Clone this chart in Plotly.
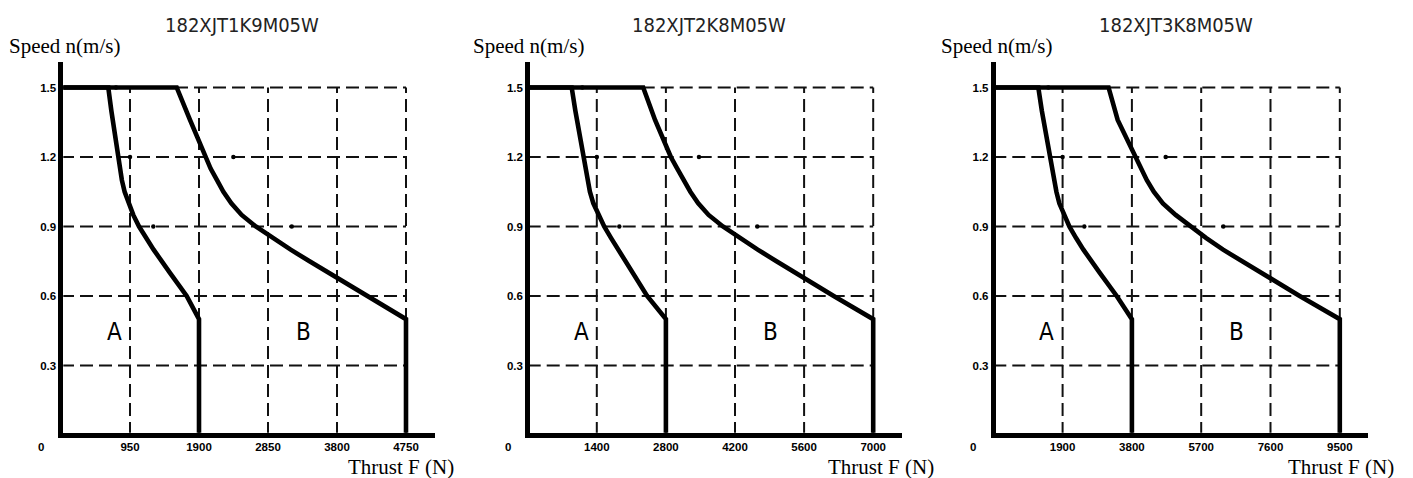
import plotly.graph_objects as go

# The page body has an 8px margin, so the figure is sized to sit inside it.
PAGE_OFF = 8
W, H = 1405, 470

# ---------------- data ----------------
titles = ["182XJT1K9M05W", "182XJT2K8M05W", "182XJT3K8M05W"]

x_ticks_1 = [950, 1900, 2850, 3800, 4750]
x_ticks_2 = [1400, 2800, 4200, 5600, 7000]
x_ticks_3 = [1900, 3800, 5700, 7600, 9500]
y_ticks = [0.3, 0.6, 0.9, 1.2, 1.5]
y_tick_text = ["0.3", "0.6", "0.9", "1.2", "1.5"]

# speed levels along the curves (m/s)
a_v = [1.5, 1.5, 1.4, 1.3, 1.2, 1.1, 1.05, 1.0, 0.95, 0.9, 0.85, 0.8, 0.7, 0.6, 0.5, 0]
b_v = [1.5, 1.5, 1.36, 1.2, 1.15, 1.1, 1.05, 1.0, 0.95, 0.9, 0.85, 0.8, 0.75, 0.7, 0.6, 0.5, 0]

# chart 1 thrust values (N)
a1_f = [0, 651, 693, 737, 782, 838, 876, 928, 995, 1075, 1170, 1275, 1500, 1730, 1900, 1900]
b1_f = [0, 1593, 1776, 1983, 2060, 2148, 2236, 2345, 2487, 2682, 2912, 3162, 3422, 3682,
        4202, 4750, 4750]
# chart 2
a2_f = [0, 891, 965, 1045, 1127, 1210, 1260, 1330, 1430, 1550, 1690, 1835, 2130, 2420, 2800, 2800]
b2_f = [0, 2340, 2580, 2900, 3030, 3162, 3295, 3455, 3665, 3955, 4290, 4660, 5040, 5420,
        6200, 7000, 7000]
# chart 3
a3_f = [0, 1234, 1330, 1440, 1555, 1665, 1730, 1810, 1935, 2085, 2270, 2470, 2920, 3383, 3800, 3800]
b3_f = [0, 3160, 3410, 3890, 4040, 4210, 4400, 4650, 5000, 5400, 5840, 6300, 6820, 7340,
        8400, 9500, 9500]

# small dots on the drawing
dots_v = [1.5, 1.2, 1.2, 0.9, 0.9]
dots1_f = [757, 950, 2373, 1271, 3177]
dots2_f = [1106, 1400, 3470, 1856, 4651]
dots3_f = [1508, 1900, 4727, 2495, 6306]

# ---------------- geometry (reference pixels) ----------------
LW = 4.6                       # axis / curve line width
x0_px = [61, 527.7, 993.3]     # x pixel of thrust 0 (axis line centre)
x_end_px = [435, 901.7, 1368]  # right end of x axis line
px_per_tick = [69, 69.1, 69.3]
y0_px, y_top_px, px_per_03 = 435, 62, 69.5


def fx(px):
    return (px - PAGE_OFF) / W


def fy(py):
    return 1 - (py - PAGE_OFF) / H


charts = [
    (x_ticks_1, a1_f, b1_f, dots1_f),
    (x_ticks_2, a2_f, b2_f, dots2_f),
    (x_ticks_3, a3_f, b3_f, dots3_f),
]

fig = go.Figure()
annotations = []
narrow = "DejaVu Sans Condensed, Liberation Sans Narrow, sans-serif"
tickfam = "Liberation Sans, Arial, sans-serif"
serif = "Liberation Serif, Times New Roman, serif"

title_cx = [242, 709, 1176]
speed_x = [7, 471, 939]
thrust_xr = [456, 936, 1396]
ab_pos = [(743, 3345), (1080, 4913), (1464, 6655)]

y_dom = [fy(y0_px - LW / 2), fy(y_top_px)]
y_range = [(LW / 2) * 0.3 / px_per_03, (y0_px - y_top_px) * 0.3 / px_per_03]

for i, (xt, af, bf, df) in enumerate(charts):
    xa = "x" if i == 0 else f"x{i+1}"
    ya = "y" if i == 0 else f"y{i+1}"
    gx_max = xt[-1]
    gy_max = y_ticks[-1]
    # dashed grid
    gxs, gys = [], []
    for v in xt:
        gxs += [v, v, None]
        gys += [0, gy_max, None]
    for v in y_ticks:
        gxs += [0, gx_max, None]
        gys += [v, v, None]
    fig.add_trace(go.Scatter(x=gxs, y=gys, mode="lines", xaxis=xa, yaxis=ya,
                             line=dict(color="#111", width=2, dash="13px,6px"),
                             hoverinfo="skip", showlegend=False))
    # curves
    for fxs, vys in ((af, a_v), (bf, b_v)):
        fig.add_trace(go.Scatter(x=fxs, y=vys, mode="lines", xaxis=xa, yaxis=ya,
                                 line=dict(color="black", width=LW),
                                 showlegend=False))
    fig.add_trace(go.Scatter(x=df, y=dots_v, mode="markers", xaxis=xa, yaxis=ya,
                             marker=dict(color="black", size=4.5),
                             hoverinfo="skip", showlegend=False))

    unit = xt[0] / px_per_tick[i]
    x_range = [(LW / 2) * unit, (x_end_px[i] - x0_px[i]) * unit]
    xkey = "xaxis" if i == 0 else f"xaxis{i+1}"
    ykey = "yaxis" if i == 0 else f"yaxis{i+1}"
    fig.update_layout(**{
        xkey: dict(domain=[fx(x0_px[i] + LW / 2), fx(x_end_px[i])], range=x_range, anchor=ya,
                   showgrid=False, zeroline=False, showline=True,
                   linewidth=LW, linecolor="black",
                   tickvals=xt, ticktext=[str(v) for v in xt], ticks="",
                   ticklabelstandoff=0,
                   tickfont=dict(family=tickfam, size=11.5, color="black", weight="bold")),
        ykey: dict(domain=y_dom, range=y_range, anchor=xa,
                   showgrid=False, zeroline=False, showline=True,
                   linewidth=LW, linecolor="black",
                   tickvals=y_ticks, ticktext=y_tick_text, ticks="",
                   ticklabelstandoff=0,
                   tickfont=dict(family=tickfam, size=11.5, color="black", weight="bold")),
    })

    # region labels A / B
    for txt, xp in zip(("A", "B"), ab_pos[i]):
        annotations.append(dict(x=xp, y=0.445, xref=xa, yref=ya, text=txt,
                                showarrow=False,
                                font=dict(family=narrow, size=24, color="black")))
    # titles and axis names
    annotations.append(dict(x=fx(title_cx[i]), y=fy(25), xref="paper", yref="paper",
                            text=titles[i], showarrow=False, xanchor="center", yanchor="middle",
                            font=dict(family=narrow, size=20, color="#222")))
    annotations.append(dict(x=fx(speed_x[i]), y=fy(46), xref="paper", yref="paper",
                            text="Speed n(m/s)", showarrow=False, xanchor="left", yanchor="middle",
                            font=dict(family=serif, size=21, color="black")))
    annotations.append(dict(x=fx(thrust_xr[i]), y=fy(467), xref="paper", yref="paper",
                            text="Thrust F (N)", showarrow=False, xanchor="right", yanchor="middle",
                            font=dict(family=serif, size=21, color="black")))
    annotations.append(dict(x=fx(x0_px[i] - 20), y=fy(447), xref="paper", yref="paper",
                            text="<b>0</b>", showarrow=False, xanchor="center", yanchor="middle",
                            font=dict(family=tickfam, size=11.5, color="black")))

fig.update_layout(width=W, height=H, autosize=False,
                  margin=dict(l=0, r=0, t=0, b=0),
                  paper_bgcolor="white", plot_bgcolor="white",
                  annotations=annotations, showlegend=False)

fig.write_html("out.html")
